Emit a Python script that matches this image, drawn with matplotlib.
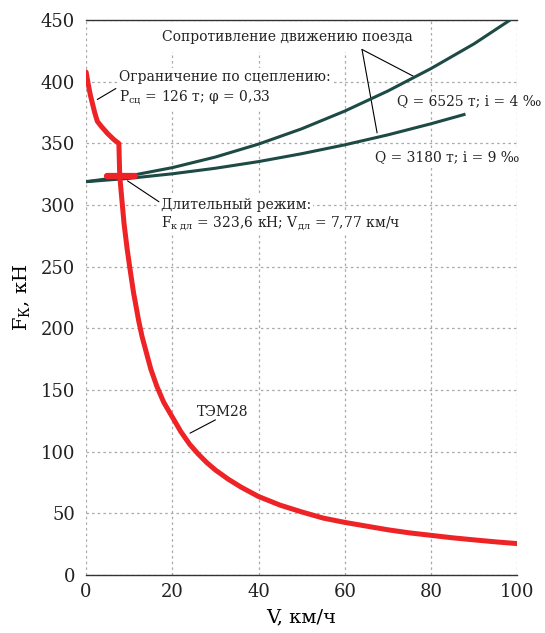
import numpy as np
import matplotlib
matplotlib.use("Agg")
import matplotlib.pyplot as plt

plt.rcParams['font.family'] = ['DejaVu Serif']
plt.rcParams['mathtext.fontset'] = 'custom'
plt.rcParams['mathtext.rm'] = 'DejaVu Serif'
plt.rcParams['mathtext.it'] = 'DejaVu Serif'

# tractive force curve of TEM28 (V km/h, F kN)
tem_v = [0, 0.5, 1.0, 1.5, 2.0, 2.6, 3.5, 5.0, 6.5, 7.6, 7.8, 8.8, 9.5, 10.1, 11, 12.2,
         13, 14, 15, 16.4, 18, 20, 22, 24, 26, 28, 30, 33, 36, 40, 45, 50, 55, 60,
         65, 70, 75, 80, 85, 90, 95, 100]
tem_f = [408, 398, 389, 382, 375, 368, 364, 358, 353, 350, 323.6, 285, 265, 250, 229, 206,
         193, 180, 167, 153, 140, 128, 116, 106, 98, 91, 85, 77.5, 71, 63.5, 56.5, 51, 46, 42.5,
         39.5, 36.5, 34, 32, 30, 28.3, 26.7, 25.3]

# train resistance curves
res1_v = [0, 10, 20, 30, 40, 50, 60, 70, 80, 90, 100]
res1_f = [319, 323.7, 330.4, 339.0, 349.5, 361.9, 376.3, 392.6, 410.8, 430.9, 454]
res2_v = [0, 10, 20, 30, 40, 50, 60, 70, 80, 88]
res2_f = [319, 321.7, 325.4, 329.9, 335.3, 341.7, 348.9, 357.0, 366.0, 373.8]

# long-term mode point
f_dl = 323.6
bar_v = [4.9, 11.4]

red = '#ee2326'
green = '#1d4a45'

fig = plt.figure(figsize=(5.45, 6.33), dpi=100)
ax = fig.add_axes([0.158, 0.092, 0.791, 0.876])

ax.plot(res1_v, res1_f, color=green, lw=2.2, solid_capstyle='butt', zorder=4)
ax.plot(res2_v, res2_f, color=green, lw=2.2, solid_capstyle='butt', zorder=4)
ax.plot(tem_v, tem_f, color=red, lw=3.6, solid_capstyle='round', solid_joinstyle='round', zorder=5)
ax.plot(bar_v, [f_dl, f_dl], color=red, lw=4.5, solid_capstyle='round', zorder=5)

ax.set_xlim(0, 100)
ax.set_ylim(0, 450)
ax.set_xticks(np.arange(0, 101, 20))
ax.set_yticks(np.arange(0, 451, 50))
ax.tick_params(length=0, labelsize=13, colors='#222222')
ax.tick_params(axis='y', pad=8)
ax.tick_params(axis='x', pad=6)
ax.grid(True, color='#a8a8a8', linestyle=(0, (2, 2.5)), lw=0.9)
for s in ['left', 'right']:
    ax.spines[s].set_visible(False)
for s in ['top', 'bottom']:
    ax.spines[s].set_color('#333333')
    ax.spines[s].set_linewidth(1.0)

ax.set_xlabel('V, км/ч', fontsize=14, labelpad=5)
ax.set_ylabel(r'F$_{\mathrm{К}}$, кН', fontsize=14, labelpad=6)

box = dict(facecolor='white', edgecolor='none', pad=1.5)
tk = dict(fontsize=10, color='#222222', zorder=3)
lk = dict(arrowstyle='-', color='black', lw=0.8, shrinkA=0, shrinkB=0)

ax.text(46.7, 436.5, 'Сопротивление движению поезда', ha='center', va='center',
        bbox=dict(facecolor='white', edgecolor='none', pad=6), **tk)
ax.annotate('', xy=(75.9, 404.6), xytext=(64.0, 426.3), arrowprops=lk)
ax.annotate('', xy=(67.5, 358.6), xytext=(64.0, 426.3), arrowprops=lk)

ax.text(7.6, 403.8, 'Ограничение по сцеплению:', ha='left', va='center', bbox=box, **tk)
ax.text(7.6, 387.6, r'P$_{\mathrm{сц}}$ = 126 т; φ = 0,33', ha='left', va='center', bbox=box, **tk)
ax.annotate('', xy=(2.6, 385.7), xytext=(6.9, 394.6), arrowprops=lk)

ax.text(72.2, 384.6, 'Q = 6525 т; i = 4 ‰', ha='left', va='center', bbox=box, **tk)
ax.text(67.1, 339.2, 'Q = 3180 т; i = 9 ‰', ha='left', va='center', bbox=box, **tk)

ax.text(17.3, 300, 'Длительный режим:', ha='left', va='center', bbox=box, **tk)
ax.text(17.3, 285.2, r'F$_{\mathrm{к\ дл}}$ = 323,6 кН; V$_{\mathrm{дл}}$ = 7,77 км/ч',
        ha='left', va='center', bbox=box, **tk)
ax.annotate('', xy=(9.6, 319.7), xytext=(16.9, 302.7), arrowprops=lk)

ax.text(25.8, 132.4, 'ТЭМ28', ha='left', va='center', **tk)
ax.annotate('', xy=(24.1, 114.9), xytext=(30.0, 125.7), arrowprops=lk)

fig.savefig('out.png', dpi=100)
